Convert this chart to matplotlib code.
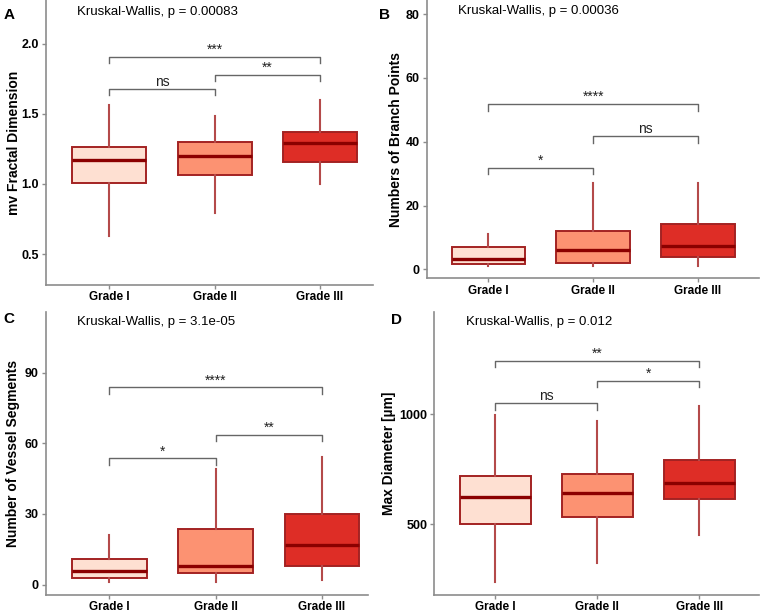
import matplotlib
matplotlib.use("Agg")
import matplotlib.pyplot as plt

plt.rcParams['font.family'] = ['Liberation Sans', 'DejaVu Sans']

W, H = 762, 613

groups = ["Grade I", "Grade II", "Grade III"]
fills = ["#FEE0D2", "#FC9272", "#DE2D26"]

# panel A - mv fractal dimension
a_low = [0.63, 0.79, 1.00]
a_q1 = [1.01, 1.065, 1.155]
a_med = [1.17, 1.20, 1.29]
a_q3 = [1.26, 1.30, 1.372]
a_high = [1.56, 1.485, 1.60]
a_pairs = [(1, 2, 1.678, "ns"), (2, 3, 1.777, "**"), (1, 3, 1.905, "***")]

# panel B - branch points
b_low = [1.0, 1.0, 1.0]
b_q1 = [1.6, 2.1, 3.9]
b_med = [3.1, 6.0, 7.3]
b_q3 = [7.0, 12.0, 14.2]
b_high = [11.0, 27.0, 27.0]
b_pairs = [(1, 2, 31.8, "*"), (2, 3, 41.7, "ns"), (1, 3, 51.8, "****")]

# panel C - vessel segments
c_low = [1.1, 1.1, 1.8]
c_q1 = [3.0, 5.1, 8.0]
c_med = [5.8, 8.0, 16.9]
c_q3 = [10.7, 23.4, 30.0]
c_high = [20.9, 49.1, 54.0]
c_pairs = [(1, 2, 53.6, "*"), (2, 3, 63.6, "**"), (1, 3, 83.8, "****")]

# panel D - max diameter
d_low = [238, 322, 453]
d_q1 = [500, 534, 613]
d_med = [624, 643, 688]
d_q3 = [718, 729, 792]
d_high = [997, 968, 1039]
d_pairs = [(1, 2, 1050, "ns"), (2, 3, 1152, "*"), (1, 3, 1243, "**")]

panels = [
    dict(tag="A", stats=(a_low, a_q1, a_med, a_q3, a_high), pairs=a_pairs,
         ylabel="mv Fractal Dimension", kw="Kruskal-Wallis, p = 0.00083",
         box=(45.7, 0, 373, 285), xlim=(0.396, 3.503), ylim=(0.28, 2.31),
         yticks=[0.5, 1.0, 1.5, 2.0], yfmt="{:.1f}", ylab_x=21, tag_xy=(9, 15), kw_xy=(77, 12)),
    dict(tag="B", stats=(b_low, b_q1, b_med, b_q3, b_high), pairs=b_pairs,
         ylabel="Numbers of Branch Points", kw="Kruskal-Wallis, p = 0.00036",
         box=(426.7, 0, 759.3, 278.3), xlim=(0.413, 3.584), ylim=(-2.8, 84.4),
         yticks=[0, 20, 40, 60, 80], yfmt="{:d}", ylab_x=403, tag_xy=(385, 15), kw_xy=(458, 11)),
    dict(tag="C", stats=(c_low, c_q1, c_med, c_q3, c_high), pairs=c_pairs,
         ylabel="Number of Vessel Segments", kw="Kruskal-Wallis, p = 3.1e-05",
         box=(45.7, 312, 368.3, 594.5), xlim=(0.402, 3.435), ylim=(-4.2, 115.7),
         yticks=[0, 30, 60, 90], yfmt="{:d}", ylab_x=20, tag_xy=(9, 319), kw_xy=(77, 322)),
    dict(tag="D", stats=(d_low, d_q1, d_med, d_q3, d_high), pairs=d_pairs,
         ylabel="Max Diameter [µm]", kw="Kruskal-Wallis, p = 0.012",
         box=(434.3, 312, 759.3, 594.5), xlim=(0.402, 3.588), ylim=(180.6, 1464),
         yticks=[500, 1000], yfmt="{:d}", ylab_x=396, tag_xy=(397, 320), kw_xy=(466, 322)),
]

fig = plt.figure(figsize=(W / 100, H / 100), dpi=100)

for p in panels:
    l, t, r, b = p["box"]
    ax = fig.add_axes([l / W, 1 - b / H, (r - l) / W, (b - t) / H])
    low, q1, med, q3, high = p["stats"]
    stats = []
    for i in range(3):
        stats.append(dict(whislo=low[i], q1=q1[i], med=med[i], q3=q3[i], whishi=high[i], fliers=[]))
    bp = ax.bxp(stats, positions=[1, 2, 3], widths=0.7, patch_artist=True,
                showcaps=False, showfliers=False,
                boxprops=dict(edgecolor="#a32222", linewidth=1.4),
                whiskerprops=dict(color="#b44a4a", linewidth=1.5),
                medianprops=dict(color="#8B0000", linewidth=2.4, solid_capstyle="butt"))
    for patch, c in zip(bp["boxes"], fills):
        patch.set_facecolor(c)

    ax.set_xlim(*p["xlim"])
    ax.set_ylim(*p["ylim"])
    axh = b - t
    tip = 6.5 / axh * (p["ylim"][1] - p["ylim"][0])
    for g1, g2, y, lab in p["pairs"]:
        ax.plot([g1, g1, g2, g2], [y - tip, y, y, y - tip], color="#666666", lw=1.0)
        ax.annotate(lab, xy=((g1 + g2) / 2, y), xytext=(0, 2), textcoords="offset points",
                    ha="center", va="baseline", fontsize=10, color="#222222")

    ax.set_xticks([1, 2, 3])
    ax.set_xticklabels(groups, fontsize=8.5, fontweight="bold")
    ax.set_yticks(p["yticks"])
    ax.set_yticklabels([p["yfmt"].format(v) for v in p["yticks"]], fontsize=9, fontweight="bold")
    for s in ["top", "right"]:
        ax.spines[s].set_visible(False)
    for s in ["left", "bottom"]:
        ax.spines[s].set_color("#8c8c8c")
        ax.spines[s].set_linewidth(1.2)
    ax.tick_params(colors="#8c8c8c", labelcolor="black", length=3, width=1, pad=2)
    ax.tick_params(axis="x", pad=1.5)

    ax.set_ylabel(p["ylabel"], fontsize=10, fontweight="bold")
    ax.yaxis.set_label_coords((p["ylab_x"] - l) / (r - l), 0.5)

    fig.text(p["kw_xy"][0] / W, 1 - p["kw_xy"][1] / H, p["kw"], fontsize=9.5,
             ha="left", va="center")
    fig.text(p["tag_xy"][0] / W, 1 - p["tag_xy"][1] / H, p["tag"], fontsize=11,
             fontweight="bold", ha="center", va="center")

fig.savefig("out.png", dpi=100)
